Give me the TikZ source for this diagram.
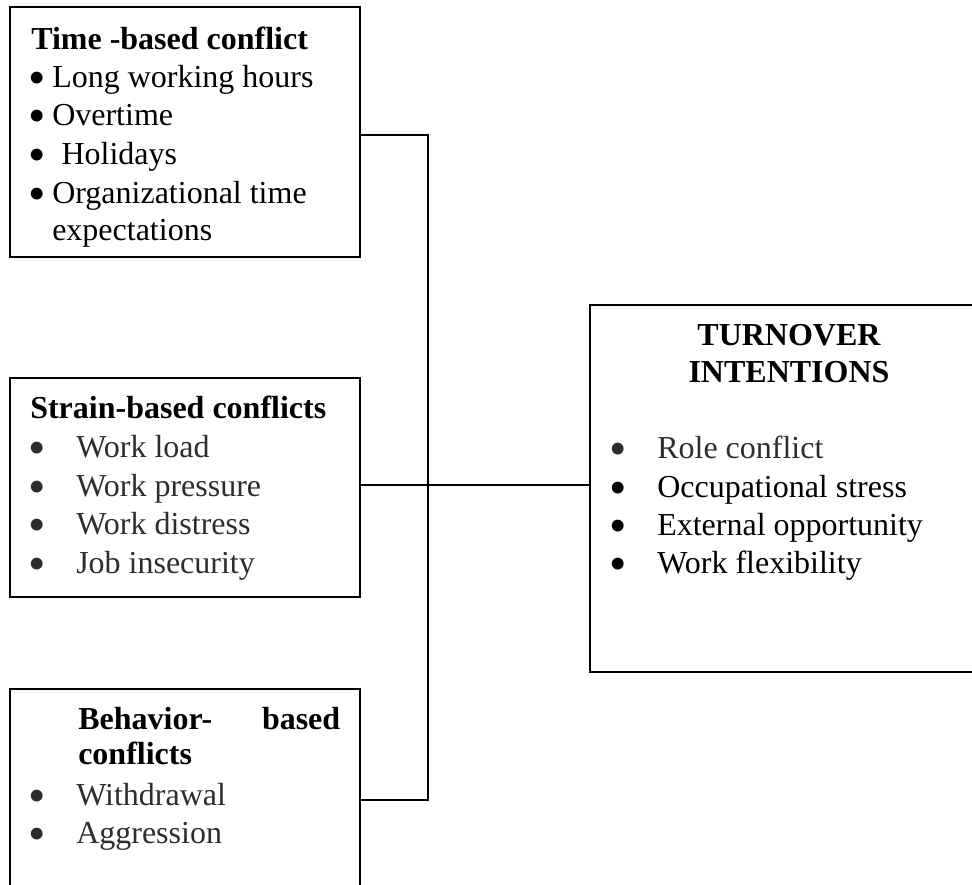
\documentclass[tikz,border=0pt]{standalone}
\usepackage{fontspec}
\setmainfont{Liberation Serif}
\usepackage{xcolor}
\usetikzlibrary{fit}
\definecolor{itemgray}{RGB}{45,45,45}
\newcommand{\bdot}{\smash{\raisebox{-0.245em}{\scalebox{1.55}{\textbullet}}}}
\newcommand{\bul}{\makebox[36pt][l]{\bdot}}
\newcommand{\sbul}[1][18pt]{\makebox[#1][l]{\bdot}}

\begin{document}
\begin{tikzpicture}[x=0.75pt,y=0.75pt,yscale=-1,xscale=1,
  box/.style={draw, line width=1.3pt, inner sep=0pt},
  link/.style={line width=1.3pt},
  txt/.style={anchor=base west, inner sep=0pt, font=\fontsize{24}{29}\selectfont},
  head/.style={txt, font=\fontsize{24}{29}\selectfont\bfseries},
  grey/.style={txt, text=itemgray}]
\useasboundingbox (0,0) rectangle (972,885);
\clip (0,0) rectangle (972,885);

%Shape: Rectangle (time-based)
\node (timebox) [box, fit={(10,7) (360,257)}] {};
%Shape: Rectangle (strain-based)
\node (strainbox) [box, fit={(10,378) (360,597)}] {};
%Shape: Rectangle (behavior-based), runs off the bottom
\node (behavbox) [box, fit={(10,689) (360,905)}] {};
%Shape: Rectangle (turnover), runs off the right
\node (turnbox) [box, fit={(590,305) (986,672)}] {};

%Straight Lines
\coordinate (jtop) at (428,135);
\coordinate (jmid) at (428,485);
\coordinate (jbot) at (428,800);
\draw [link] (timebox.east |- jtop) -- (jtop) -- (jbot) -- (behavbox.east |- jbot);
\draw [link] (strainbox.east |- jmid) -- (turnbox.west |- jmid);

% Text Node
\node (timehead) [head] at (31,49) {Time -based conflict};
\node (time1) [txt] at (28,87) {\sbul Long working hours};
\node (time2) [txt] at (28,125) {\sbul Overtime};
\node (time3) [txt] at (28,164) {\sbul[25pt]Holidays};
\node (time4) [txt] at (28,203) {\sbul Organizational time};
\node (time5) [txt] at (52,240) {expectations};

% Text Node
\node (strainhead) [head] at (30,418) {Strain-based conflicts};
\node (strain1) [grey] at (28,457) {\bul Work load};
\node (strain2) [grey] at (28,496) {\bul Work pressure};
\node (strain3) [grey] at (28,534) {\bul Work distress};
\node (strain4) [grey] at (28,573) {\bul Job insecurity};

% Text Node
\node (behavhead) [head] at (78,729) {\makebox[196.5pt]{Behavior-\hfill based}};
\node (behavhead2) [head] at (78,764) {conflicts};
\node (behav1) [grey] at (28,805) {\bul Withdrawal};
\node (behav2) [grey] at (28,843) {\bul Aggression};

% Text Node
\node (turnhead) [head, anchor=base] at (789,345) {TURNOVER};
\node (turnhead2) [head, anchor=base] at (789,382) {INTENTIONS};
\node (turn1) [grey] at (609,458) {\bul Role conflict};
\node (turn2) [txt] at (609,497) {\bul Occupational stress};
\node (turn3) [txt] at (609,535) {\bul External opportunity};
\node (turn4) [txt] at (609,573) {\bul Work flexibility};

\end{tikzpicture}
\end{document}
